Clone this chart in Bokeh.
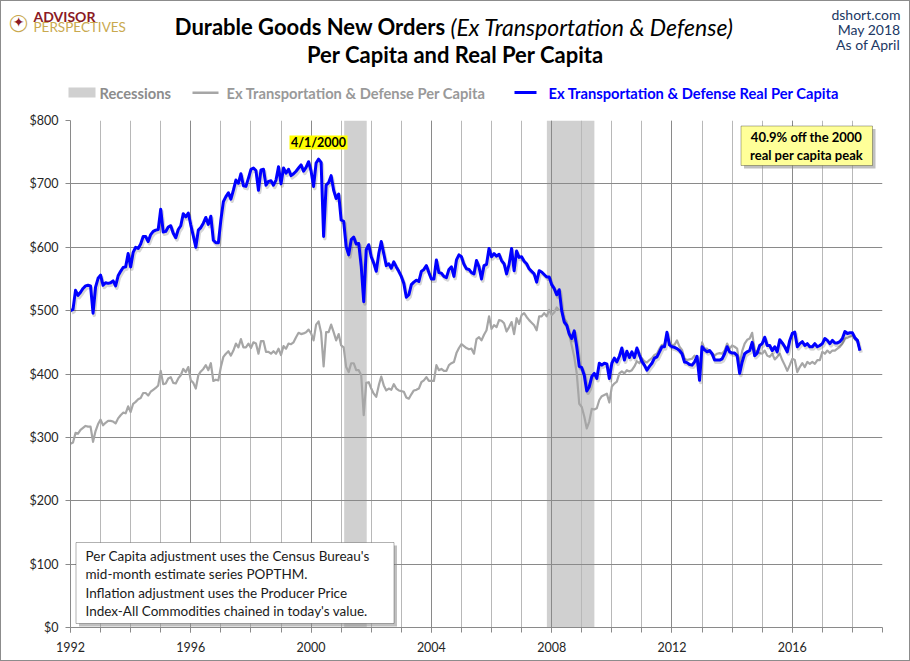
import numpy as np
from bokeh.plotting import figure
from bokeh.layouts import column
from bokeh.models import (Range1d, SingleIntervalTicker, PrintfTickFormatter,
                          BoxAnnotation, Label)
from bokeh.embed import file_html
from bokeh.resources import INLINE

# ---------------- data (monthly, Jan 1992 .. Apr 2018) ----------------
start_year = 1992
real_per_capita = [
    500, 502, 532, 524, 529, 535, 539, 540, 539, 496, 537, 551,   # 1992
    556, 540, 544, 543, 544, 547, 539, 555, 562, 568, 569, 590,   # 1993
    569, 592, 600, 598, 605, 617, 617, 609, 620, 625, 627, 628,   # 1994
    660, 624, 625, 632, 634, 622, 615, 628, 634, 653, 648, 654,   # 1995
    635, 618, 600, 627, 631, 638, 647, 636, 649, 611, 607, 607,   # 1996
    643, 672, 680, 686, 676, 690, 706, 701, 716, 697, 696, 709,   # 1997
    723, 725, 721, 690, 722, 723, 698, 704, 705, 698, 706, 727,   # 1998
    700, 725, 717, 723, 713, 716, 720, 725, 730, 720, 726, 735,   # 1999
    720, 696, 733, 739, 734, 617, 698, 702, 713, 690, 677, 684,   # 2000
    643, 641, 601, 588, 612, 616, 605, 606, 570, 514, 596, 604,   # 2001
    585, 575, 562, 590, 609, 590, 571, 574, 567, 577, 569, 562,   # 2002
    554, 543, 521, 525, 541, 545, 548, 546, 562, 565, 571, 560,   # 2003
    550, 550, 580, 560, 559, 554, 552, 565, 569, 554, 580, 588,   # 2004
    585, 573, 566, 565, 560, 558, 579, 569, 550, 571, 573, 598,   # 2005
    585, 590, 586, 589, 579, 574, 558, 573, 598, 563, 594, 584,   # 2006
    585, 578, 574, 566, 562, 558, 545, 563, 561, 557, 553, 553,   # 2007
    541, 535, 525, 533, 500, 482, 477, 463, 456, 468, 443, 412,   # 2008
    410, 398, 373, 380, 396, 401, 393, 417, 414, 417, 416, 393,   # 2009
    417, 425, 419, 428, 441, 422, 436, 426, 435, 426, 441, 430,   # 2010
    420, 414, 406, 412, 417, 425, 427, 435, 443, 443, 466, 446,   # 2011
    443, 442, 440, 437, 432, 419, 418, 415, 414, 419, 428, 390,   # 2012
    443, 438, 435, 437, 432, 422, 422, 422, 424, 432, 443, 435,   # 2013
    433, 433, 429, 401, 419, 432, 435, 437, 450, 429, 433, 445,   # 2014
    448, 458, 445, 445, 437, 443, 435, 454, 449, 443, 435, 453,   # 2015
    464, 466, 443, 448, 451, 445, 448, 443, 443, 448, 443, 445,   # 2016
    448, 456, 453, 448, 453, 449, 449, 451, 456, 467, 464, 465,   # 2017
    465, 457, 453, 437,                                           # 2018
]
per_capita = [
    290, 292, 307, 306, 312, 315, 318, 317, 317, 293, 310, 321,   # 1992
    328, 319, 323, 326, 326, 325, 322, 330, 335, 339, 338, 349,   # 1993
    340, 353, 356, 360, 362, 370, 370, 366, 372, 375, 378, 382,   # 1994
    405, 384, 385, 393, 395, 386, 385, 393, 398, 408, 403, 411,   # 1995
    390, 386, 377, 398, 404, 408, 414, 406, 417, 389, 391, 390,   # 1996
    411, 427, 432, 436, 429, 437, 448, 442, 455, 442, 442, 448,   # 1997
    441, 450, 448, 432, 452, 452, 435, 435, 432, 436, 432, 440,   # 1998
    430, 444, 440, 448, 447, 450, 458, 465, 463, 464, 466, 470,   # 1999
    464, 453, 478, 483, 465, 412, 466, 466, 478, 466, 453, 463,   # 2000
    445, 442, 411, 403, 417, 417, 406, 406, 398, 335, 386, 387,   # 2001
    377, 369, 364, 382, 396, 382, 374, 377, 375, 384, 377, 374,   # 2002
    373, 372, 363, 361, 368, 374, 375, 377, 387, 390, 395, 389,   # 2003
    389, 389, 414, 406, 408, 405, 405, 414, 417, 419, 433, 441,   # 2004
    447, 444, 441, 439, 440, 432, 455, 458, 453, 462, 469, 491,   # 2005
    471, 477, 474, 485, 484, 480, 467, 474, 482, 463, 488, 479,   # 2006
    493, 496, 490, 485, 481, 477, 469, 491, 491, 496, 491, 501,   # 2007
    493, 497, 505, 501, 500, 487, 482, 462, 445, 427, 401, 353,   # 2008
    348, 333, 314, 325, 345, 344, 346, 359, 365, 367, 369, 355,   # 2009
    380, 385, 388, 401, 404, 401, 406, 404, 406, 412, 420, 417,   # 2010
    425, 420, 418, 422, 425, 430, 432, 440, 446, 446, 462, 448,   # 2011
    446, 446, 453, 443, 438, 424, 422, 423, 424, 429, 424, 400,   # 2012
    450, 440, 440, 435, 433, 429, 432, 433, 432, 437, 448, 440,   # 2013
    445, 443, 440, 415, 436, 448, 454, 456, 465, 437, 435, 433,   # 2014
    432, 437, 429, 427, 432, 423, 427, 432, 422, 414, 405, 414,   # 2015
    424, 422, 403, 411, 417, 411, 419, 416, 419, 416, 422, 422,   # 2016
    435, 432, 437, 433, 437, 437, 440, 443, 448, 456, 457, 459,   # 2017
    460, 455, 452, 437,                                           # 2018
]
recession_start = [2001.10, 2007.84]
recession_end = [2001.85, 2009.42]
x_start, x_end = 1992, 2019
y_start, y_end = 0, 800

series_names = ["Ex Transportation & Defense Per Capita",
                "Ex Transportation & Defense Real Per Capita"]
recession_name = "Recessions"
title_bold = "Durable Goods New Orders"
title_italic = "(Ex Transportation & Defense)"
subtitle = "Per Capita and Real Per Capita"
peak_label = "4/1/2000"
peak_note = ["40.9% off the 2000", "real per capita peak"]
footnote = ["Per Capita adjustment uses the Census Bureau's",
            "mid-month estimate series POPTHM.",
            "Inflation adjustment uses the Producer Price",
            "Index-All Commodities chained in today's value."]
source_lines = ["dshort.com", "May 2018", "As of April"]

FONT = "Lato"
W = 908          # inner width (plus 1px border each side = 910)
HEAD_H = 111     # header canvas, page y 1..112
MAIN_H = 548     # chart canvas, page y 112..660

# ---------------- header (title, logo, legend) ----------------
h = figure(width=W, height=HEAD_H, output_backend="svg", toolbar_location=None,
           x_range=Range1d(1, 1 + W), y_range=Range1d(1 + HEAD_H, 1),
           x_axis_type=None, y_axis_type=None, min_border=0, title=None)
h.outline_line_color = None
h.xgrid.visible = False
h.ygrid.visible = False

def hlabel(px, py, text, size="13px", color="black", style="normal",
           align="left", font=FONT):
    h.add_layout(Label(x=px, y=py, text=text, text_font=font,
                       text_font_size=size, text_color=color,
                       text_font_style=style, text_align=align,
                       text_baseline="middle"))

def hbox(l, r, t, b, fill):
    h.add_layout(BoxAnnotation(left=l, right=r, top=t, bottom=b,
                               fill_color=fill, fill_alpha=1.0, line_color=None))

hlabel(445, 26, title_bold, size="22px", style="bold", align="right")
hlabel(450, 26, title_italic, size="23px", style="italic")
hlabel(455, 54, subtitle, size="22px", style="bold", align="center")

for i, t in enumerate(source_lines):
    hlabel(900, 14 + 15 * i, t, size="14px", color="#203864", align="right")

hlabel(18, 21, "\u25ef", size="17px", color="#c9a94f", align="center", font="DejaVu Sans")
hlabel(18, 21, "\u2726", size="14px", color="#8b1a24", align="center", font="DejaVu Sans")
hlabel(33, 16, "ADVISOR", size="14px", color="#8b1a24", style="bold")
hlabel(33, 26.5, "PERSPECTIVES", size="13.5px", color="#c9a94f")

LEG = "14.7px"
hbox(68, 95, 87, 97, "#d0d0d0")
hlabel(99, 92, recession_name, size=LEG, color="#8c8c8c", style="bold")
hbox(192, 218, 91, 93.5, "#a6a6a6")
hlabel(226, 92, series_names[0], size=LEG, color="#999999", style="bold")
hbox(514, 536, 90.5, 93.5, "#0000ff")
hlabel(548, 92, series_names[1], size=LEG, color="#0000ff", style="bold")

# ---------------- main chart ----------------
p = figure(width=W, height=MAIN_H, output_backend="svg", toolbar_location=None,
           x_range=Range1d(x_start, x_end), y_range=Range1d(y_start, y_end),
           min_border_left=69, min_border_right=27, min_border_top=8,
           min_border_bottom=33, title=None)
p.outline_line_color = None
p.background_fill_color = "white"
p.border_fill_color = "white"

# keep the header's frame independent from the chart's frame
try:
    h.frame_align = False
    p.frame_align = False
except Exception:
    pass

# page pixel -> data coordinate (frame spans page px 70..882 x 120..627)
FL, FR, FT, FB = 70, 882, 120, 627
def dx(px):
    return x_start + (px - FL) * (x_end - x_start) / (FR - FL)
def dy(py):
    return y_start + (FB - py) * (y_end - y_start) / (FB - FT)

xt = SingleIntervalTicker(interval=4, num_minor_ticks=4)
yt = SingleIntervalTicker(interval=100, num_minor_ticks=0)
p.xaxis.ticker = xt
p.yaxis.ticker = yt
p.xgrid.ticker = xt
p.ygrid.ticker = yt
p.xgrid.grid_line_color = "#8a8a8a"
p.xgrid.minor_grid_line_color = "#b8b8b8"
p.ygrid.grid_line_color = "#8a8a8a"
p.yaxis.formatter = PrintfTickFormatter(format="$%d")

for ax in (p.xaxis[0], p.yaxis[0]):
    ax.axis_line_color = "#8a8a8a"
    ax.major_tick_line_color = "#8a8a8a"
    ax.minor_tick_line_color = "#8a8a8a"
    ax.major_tick_in = 0
    ax.major_tick_out = 5
    ax.minor_tick_in = 0
    ax.minor_tick_out = 5
    ax.major_label_text_font = FONT
    ax.major_label_text_font_size = "12.5px"
    ax.major_label_text_color = "#262626"
p.yaxis.minor_tick_line_color = None
p.xaxis.major_label_standoff = 9
p.yaxis.major_label_standoff = 7

p.quad(left=recession_start, right=recession_end, bottom=y_start, top=y_end,
       fill_color="#d0d0d0", line_color=None, level="image")

x = start_year + np.arange(len(real_per_capita)) / 12.0
p.line(x, per_capita, line_color="#a6a6a6", line_width=2.2, line_join="round")
p.line(x + 0.04, np.array(real_per_capita) - 3.5, line_color="black",
       line_alpha=0.16, line_width=3.5, line_join="round")
p.line(x, real_per_capita, line_color="#0000ff", line_width=3, line_join="round")

def box(l, r, t, b, fill, line=None, alpha=1.0):
    p.add_layout(BoxAnnotation(left=dx(l), right=dx(r), top=dy(t), bottom=dy(b),
                               fill_color=fill, fill_alpha=alpha,
                               line_color=line, line_width=1))

def label(px, py, text, size="13px", color="black", style="normal",
          align="left", font=FONT):
    p.add_layout(Label(x=dx(px), y=dy(py), text=text, text_font=font,
                       text_font_size=size, text_color=color,
                       text_font_style=style, text_align=align,
                       text_baseline="middle"))

box(289, 347, 135, 149, "#ffff00")
label(318, 142, peak_label, size="12.5px", style="bold", align="center")

box(743.5, 875, 128.5, 168, "#8c8c8c", alpha=0.55)
box(740.5, 872, 125.5, 165, "#ffff99", line="black")
label(806, 136, peak_note[0], size="13px", style="bold", align="center")
label(806, 154.5, peak_note[1], size="13px", style="bold", align="center")

box(78.5, 396.5, 545, 626, "#8c8c8c", alpha=0.55)
box(75.5, 393.5, 542, 623, "white", line="black")
for i, t in enumerate(footnote):
    label(85, 555 + 18.5 * i, t, size="13.5px", color="#1a1a1a")

layout = column(h, p, spacing=0, styles={"border": "1px solid #8c8c8c"})
open("out.html", "w").write(file_html(layout, INLINE))
